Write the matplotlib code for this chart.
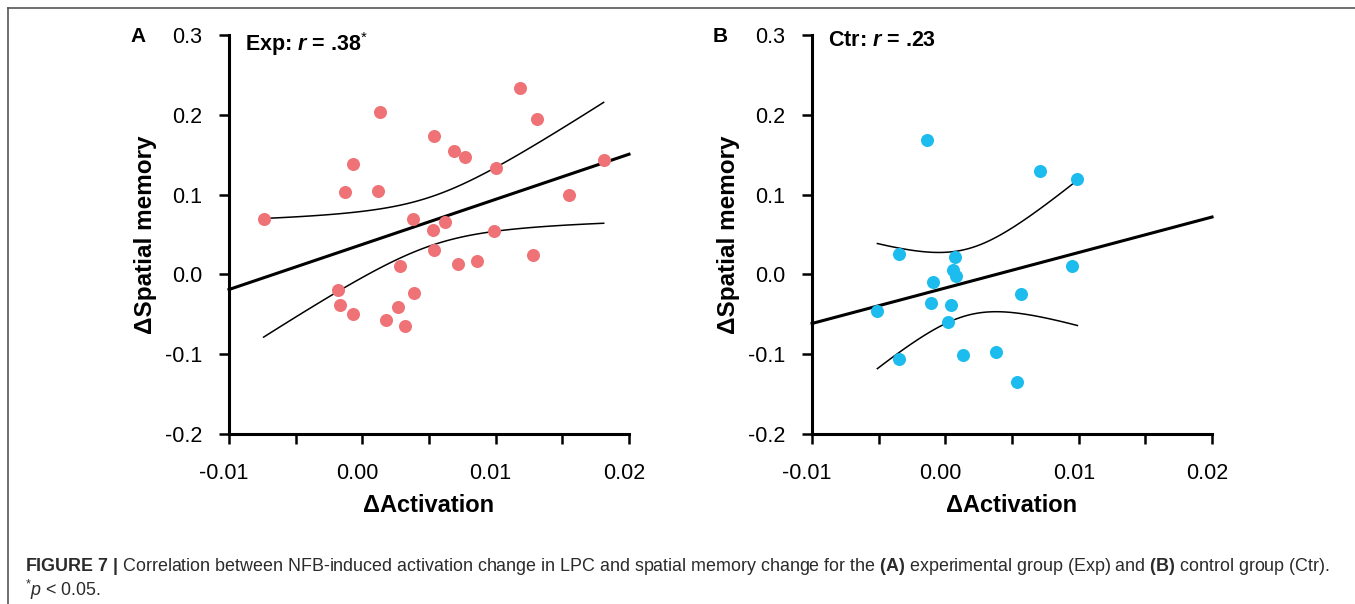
import numpy as np
import matplotlib.pyplot as plt
from matplotlib.transforms import ScaledTranslation

# data
exp_x = [-0.0074, 0.0013, -0.0007, -0.0013, 0.0012, 0.0054, 0.0069, 0.0077, 0.0100,
         0.0118, 0.0131, 0.0181, 0.0155, 0.0038, 0.0053, 0.0062, 0.0099, 0.0054,
         0.0072, 0.0086, 0.0128, 0.0028, -0.0018, -0.0017, -0.0007, 0.0039, 0.0027,
         0.0018, 0.0032]
exp_y = [0.069, 0.203, 0.138, 0.103, 0.105, 0.173, 0.154, 0.147, 0.133,
         0.233, 0.195, 0.143, 0.099, 0.070, 0.056, 0.066, 0.054, 0.030,
         0.013, 0.017, 0.024, 0.011, -0.020, -0.038, -0.050, -0.023, -0.041,
         -0.057, -0.065]

ctr_x = [-0.0014, 0.0071, 0.0099, -0.0035, 0.0007, 0.0006, 0.0008, -0.0009, 0.0095,
         -0.0051, -0.0011, 0.0004, 0.0002, 0.0057, -0.0035, 0.0013, 0.0038, 0.0054]
ctr_y = [0.169, 0.129, 0.120, 0.025, 0.022, 0.006, -0.002, -0.009, 0.010,
         -0.046, -0.036, -0.038, -0.060, -0.025, -0.106, -0.101, -0.097, -0.135]

panels = ['A', 'B']
titles = [r'Exp: $\mathbfit{r}$ = .38$^{*}$', r'Ctr: $\mathbfit{r}$ = .23']
colors = ['#EF7277', '#1CBCEE']
t_crit = [2.052, 2.120]   # two-sided 95%, df = n - 2

xticks = [-0.01, 0.0, 0.01, 0.02]
xtick_labels = ['-0.01', '0.00', '0.01', '0.02']
yticks = [-0.2, -0.1, 0.0, 0.1, 0.2, 0.3]
ytick_labels = ['-0.2', '-0.1', '0.0', '0.1', '0.2', '0.3']

caption = (r'$\mathbf{FIGURE\ 7\ |}$ Correlation between NFB-induced activation change in LPC '
           r'and spatial memory change for the $\mathbf{(A)}$ experimental group (Exp) and '
           r'$\mathbf{(B)}$ control group (Ctr).')
footnote = r'$^{*}\mathit{p}$ < 0.05.'

plt.rcParams['font.family'] = ['Liberation Sans', 'DejaVu Sans']
plt.rcParams['mathtext.fontset'] = 'custom'
plt.rcParams['mathtext.rm'] = 'Liberation Sans'
plt.rcParams['mathtext.it'] = 'Liberation Sans:italic'
plt.rcParams['mathtext.bf'] = 'Liberation Sans:bold'
plt.rcParams['mathtext.bfit'] = 'Liberation Sans:bold:italic'

fig = plt.figure(figsize=(13.55, 6.04), dpi=100)

# thin frame on top and left like the journal page
fig.add_artist(plt.Line2D([0.0059, 1.0], [0.987, 0.987], color='#555555', lw=1.2))
fig.add_artist(plt.Line2D([0.0059, 0.0059], [0.0, 0.987], color='#555555', lw=1.2))

lefts = [0.1690, 0.5993]
for i, (xs, ys) in enumerate([(exp_x, exp_y), (ctr_x, ctr_y)]):
    ax = fig.add_axes([lefts[i], 0.2815, 0.2952, 0.6606])
    xs = np.asarray(xs)
    ys = np.asarray(ys)

    # least squares fit and 95% CI of the mean
    n = len(xs)
    slope, intercept = np.polyfit(xs, ys, 1)
    resid = ys - (slope * xs + intercept)
    s = np.sqrt(np.sum(resid ** 2) / (n - 2))
    sxx = np.sum((xs - xs.mean()) ** 2)

    xl = np.linspace(-0.01, 0.02, 100)
    ax.plot(xl, slope * xl + intercept, color='black', lw=2.2, zorder=2, clip_on=False)

    xb = np.linspace(xs.min(), xs.max(), 100)
    half = t_crit[i] * s * np.sqrt(1 / n + (xb - xs.mean()) ** 2 / sxx)
    yb = slope * xb + intercept
    ax.plot(xb, yb + half, color='black', lw=1.1, zorder=2)
    ax.plot(xb, yb - half, color='black', lw=1.1, zorder=2)

    ax.scatter(xs, ys, s=88, color=colors[i], linewidths=0, zorder=3)

    ax.set_xlim(-0.01, 0.02)
    ax.set_ylim(-0.2, 0.3)
    ax.set_xticks(xticks)
    ax.set_xticklabels(xtick_labels)
    ax.set_xticks([-0.005, 0.005, 0.015], minor=True)
    ax.set_yticks(yticks)
    ax.set_yticklabels(ytick_labels)
    ax.tick_params(which='both', direction='out', length=7.2, width=1.8, labelsize=15.5)
    ax.tick_params(axis='x', pad=14)
    ax.tick_params(axis='y', pad=12)
    ax.spines[['top', 'right']].set_visible(False)
    ax.spines[['left', 'bottom']].set_linewidth(2.2)
    ax.patch.set_alpha(0)
    shift = ScaledTranslation(-5 / 100, 0, fig.dpi_scale_trans)
    for lab in ax.get_xticklabels():
        lab.set_transform(lab.get_transform() + shift)

    ax.set_xlabel('ΔActivation', fontsize=17, fontweight='bold', labelpad=7)
    ax.set_ylabel('ΔSpatial memory', fontsize=17.5, fontweight='bold', labelpad=6)
    ax.text(0.04, 1.012, titles[i], transform=ax.transAxes, fontsize=15.5,
            fontweight='bold', va='top', ha='left')
    ax.text(-0.2475, 0.996, panels[i], transform=ax.transAxes, fontsize=15,
            fontweight='bold', va='center', ha='left')

fig.text(0.0185, 0.055, caption, fontsize=12.9, color='#2b2b2b')
fig.text(0.0185, 0.013, footnote, fontsize=12.9, color='#2b2b2b')

fig.savefig('out.png', dpi=100)
